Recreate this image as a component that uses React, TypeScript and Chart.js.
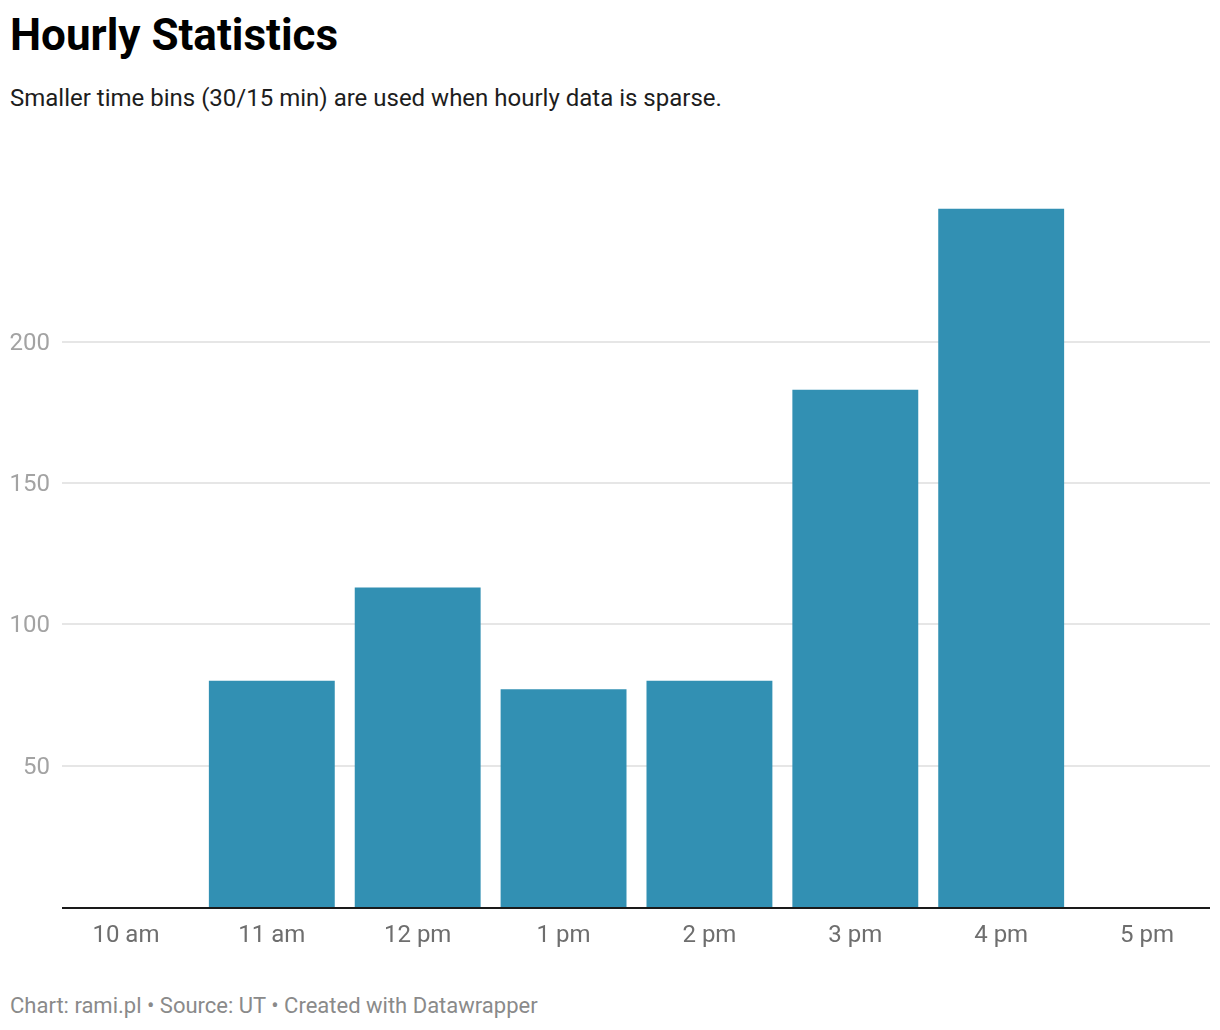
import React, { useEffect, useRef } from 'react';
import { Chart, registerables } from 'chart.js';

Chart.register(...registerables);

const hours = ['10 am', '11 am', '12 pm', '1 pm', '2 pm', '3 pm', '4 pm', '5 pm'];
const counts = [0, 80, 113, 77, 80, 183, 247, 0];
const yTicks = [50, 100, 150, 200];

const BAR_COLOR = '#3290b3';
const FONT = 'Roboto, "Noto Sans", sans-serif';

// datawrapper-style grid: inset lines behind bars, dark baseline on top
const gridPlugin = {
  id: 'dwGrid',
  beforeDatasetsDraw(chart: any) {
    const { ctx, chartArea, scales } = chart;
    const x0 = chartArea.left + 9;
    const x1 = chartArea.right - 10;
    ctx.save();
    ctx.strokeStyle = '#e6e6e6';
    ctx.lineWidth = 2;
    yTicks.forEach((v) => {
      const y = Math.round(scales.y.getPixelForValue(v));
      ctx.beginPath();
      ctx.moveTo(x0, y);
      ctx.lineTo(x1, y);
      ctx.stroke();
    });
    ctx.restore();
  },
  afterDatasetsDraw(chart: any) {
    const { ctx, chartArea, scales } = chart;
    const y = scales.y.getPixelForValue(0) + 1;
    ctx.save();
    ctx.strokeStyle = '#1a1a1a';
    ctx.lineWidth = 2;
    ctx.beginPath();
    ctx.moveTo(chartArea.left + 9, y);
    ctx.lineTo(chartArea.right - 10, y);
    ctx.stroke();
    ctx.restore();
  },
};

const HourlyChart: React.FC = () => {
  const canvasRef = useRef<HTMLCanvasElement | null>(null);

  useEffect(() => {
    if (!canvasRef.current) return;
    const chart = new Chart(canvasRef.current, {
      type: 'bar',
      data: {
        labels: hours,
        datasets: [
          {
            data: counts,
            backgroundColor: BAR_COLOR,
            categoryPercentage: 1,
            barPercentage: 0.863,
          },
        ],
      },
      options: {
        animation: false,
        responsive: true,
        maintainAspectRatio: false,
        layout: { padding: { top: 56, right: 0, left: 0, bottom: 0 } },
        plugins: { legend: { display: false }, tooltip: { enabled: false } },
        scales: {
          x: {
            grid: { display: false, drawTicks: false },
            border: { display: false },
            afterFit: (axis: any) => {
              axis.height = 63;
            },
            ticks: {
              color: '#6e6e6e',
              padding: 15,
              maxRotation: 0,
              font: { family: FONT, size: 24 },
            },
          },
          y: {
            min: 0,
            max: 248,
            grid: { display: false, drawTicks: false },
            border: { display: false },
            afterFit: (axis: any) => {
              axis.width = 53;
            },
            afterBuildTicks: (axis: any) => {
              axis.ticks = yTicks.map((v) => ({ value: v }));
            },
            ticks: {
              color: '#a3a3a3',
              padding: 3,
              labelOffset: 2,
              font: { family: FONT, size: 24 },
            },
          },
        },
      },
      plugins: [gridPlugin],
    });
    return () => {
      chart.destroy();
    };
  }, []);

  return (
    <div style={{ position: 'absolute', left: 0, top: 150, width: 1220, height: 820 }}>
      <canvas ref={canvasRef} />
    </div>
  );
};

export default function App() {
  useEffect(() => {
    document.body.style.margin = '0';
  }, []);

  return (
    <div style={{ position: 'relative', width: 1220, height: 1030, fontFamily: FONT, background: '#fff' }}>
      <div style={{ position: 'absolute', left: 10, top: 13, fontSize: 44, lineHeight: 1, fontWeight: 700, color: '#000' }}>
        Hourly Statistics
      </div>
      <div style={{ position: 'absolute', left: 10, top: 86, fontSize: 24, lineHeight: 1, color: '#1d1d1d' }}>
        Smaller time bins (30/15 min) are used when hourly data is sparse.
      </div>
      <HourlyChart />
      <div style={{ position: 'absolute', left: 10, top: 995, fontSize: 22, lineHeight: 1, color: '#8a8a8a' }}>
        Chart: rami.pl • Source: UT • Created with Datawrapper
      </div>
    </div>
  );
}
